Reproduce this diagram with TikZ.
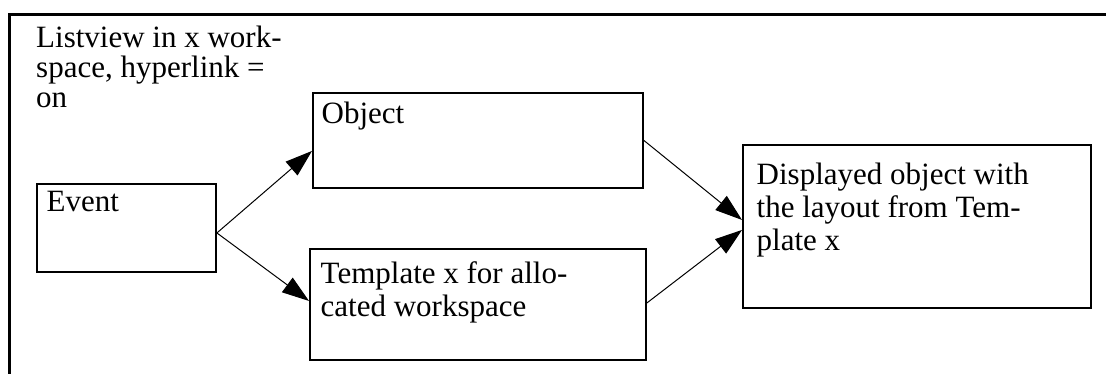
\documentclass[tikz,border=0pt]{standalone}
\usepackage{fontspec}
\setmainfont{Liberation Serif}
\usetikzlibrary{arrows.meta,calc}
\begin{document}
\begin{tikzpicture}[x=1pt,y=-1pt,
  box/.style={draw=black,line width=1.9pt,rectangle,inner sep=0pt,anchor=north west},
  txt/.style={inner sep=0pt,anchor=north west,align=left,font=\fontsize{31}{33}\selectfont},
  arr/.style={line width=1pt,-{Triangle[length=27pt,width=18pt]}}]
\useasboundingbox (0,0) rectangle (1106,374);
% outer frame (left and top only)
\draw[line width=2.7pt] (9.7,376) -- (9.7,14.7) -- (1108,14.7);
% boxes
\node[box,minimum width=179pt,minimum height=88pt] (ev) at (36,183) {};
\node[box,minimum width=330pt,minimum height=95pt] (obj) at (312,92) {};
\node[box,minimum width=336pt,minimum height=111pt] (tmpl) at (309,248) {};
\node[box,minimum width=348pt,minimum height=163pt] (disp) at (742,144) {};
% texts
\node[txt,font=\fontsize{31}{30}\selectfont] (lv) at (36,26) {Listview in x work-\\space, hyperlink =\\on};
\node[txt] (evt) at (46.5,191.5) {Event};
\node[txt] (objt) at (321.5,102) {Object};
\node[txt] (tmplt) at (320.5,261) {Template x for allo-\\cated workspace};
\node[txt] (dispt) at (756.5,163) {Displayed object with\\the layout from Tem-\\plate x};
% connectors
\draw[arr] ([yshift=-5pt]ev.east) -- ([yshift=-10.5pt]obj.west);
\draw[arr] ([yshift=-5pt]ev.east) -- ([yshift=3.5pt]tmpl.west);
\draw[arr] (obj.east) -- ([yshift=6.5pt]disp.west);
\draw[arr] ([yshift=1.5pt]tmpl.east) -- ([yshift=-3.5pt]disp.west);
\end{tikzpicture}
\end{document}
